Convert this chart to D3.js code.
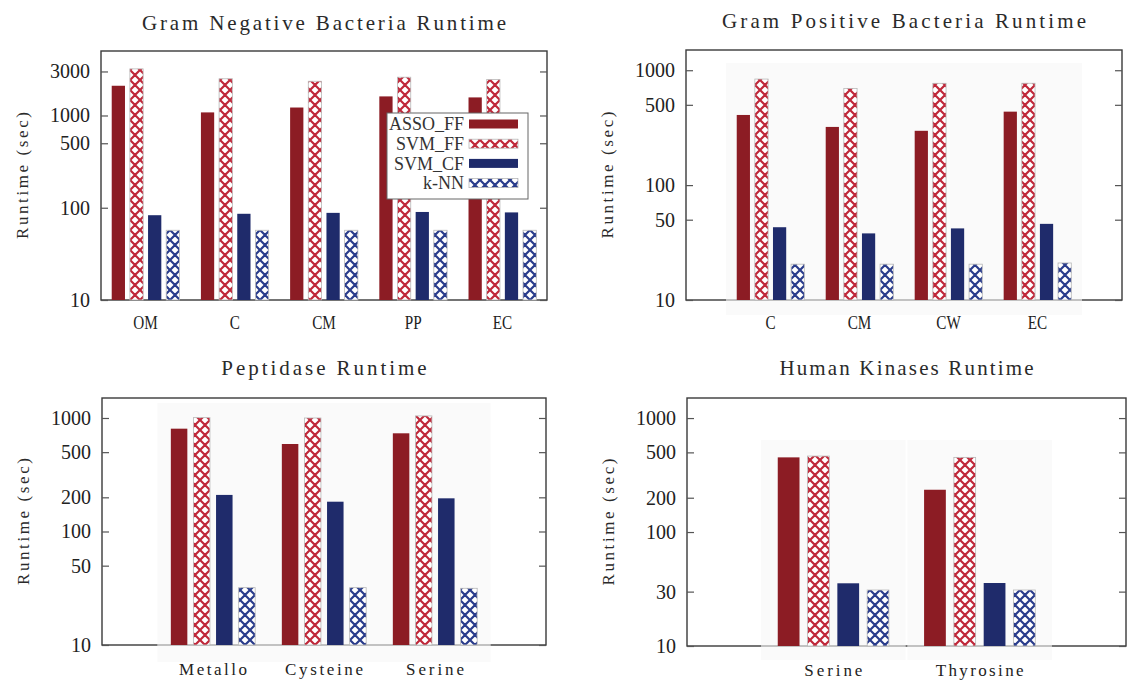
<!DOCTYPE html>
<html>
<head>
<meta charset="utf-8">
<script src="https://cdn.jsdelivr.net/npm/d3@7"></script>
<style>
  html, body { margin: 0; padding: 0; background: #ffffff; }
  svg { display: block; }
</style>
</head>
<body>
<svg id="chart" width="1139" height="681"></svg>
<script>
// ---------------- DATA ----------------
const seriesNames = ["ASSO_FF", "SVM_FF", "SVM_CF", "k-NN"];

const gnTitle = "Gram Negative Bacteria Runtime";
const gnCategories = ["OM", "C", "CM", "PP", "EC"];
const gnAssoFF = [2100, 1080, 1220, 1610, 1570];
const gnSvmFF  = [3200, 2500, 2350, 2600, 2450];
const gnSvmCF  = [83, 86, 88, 90, 89];
const gnKnn    = [57, 57, 57, 57, 57];
const gnTicks  = [10, 100, 500, 1000, 3000];

const gpTitle = "Gram Positive Bacteria Runtime";
const gpCategories = ["C", "CM", "CW", "EC"];
const gpAssoFF = [408, 321, 297, 436];
const gpSvmFF  = [838, 695, 769, 770];
const gpSvmCF  = [43, 38, 42, 46];
const gpKnn    = [20.5, 20.5, 20.5, 21];
const gpTicks  = [10, 50, 100, 500, 1000];

const pepTitle = "Peptidase Runtime";
const pepCategories = ["Metallo", "Cysteine", "Serine"];
const pepAssoFF = [805, 590, 733];
const pepSvmFF  = [1007, 1000, 1043];
const pepSvmCF  = [210, 183, 196];
const pepKnn    = [32, 32, 31.6];
const pepTicks  = [10, 50, 100, 200, 500, 1000];

const hkTitle = "Human Kinases Runtime";
const hkCategories = ["Serine", "Thyrosine"];
const hkAssoFF = [452, 235];
const hkSvmFF  = [464, 452];
const hkSvmCF  = [35.5, 35.7];
const hkKnn    = [31, 31];
const hkTicks  = [10, 30, 100, 200, 500, 1000];

const yLabel = "Runtime (sec)";

// ---------------- STYLE ----------------
const SERIF = "'Liberation Serif', 'DejaVu Serif', serif";
const cAsso = "#8c1c24", cSvmFFLine = "#c0283a", cSvmCF = "#1f2b6b", cKnnLine = "#2a3c8c";

const svg = d3.select("#chart");
const defs = svg.append("defs");
function lattice(id, color) {
  const p = defs.append("pattern").attr("id", id).attr("patternUnits", "userSpaceOnUse")
    .attr("width", 10).attr("height", 10);
  p.append("rect").attr("width", 10).attr("height", 10).attr("fill", "#ffffff");
  p.append("path")
    .attr("d", "M0,0L10,10M10,0L0,10M-5,5L5,15M5,-5L15,5M-5,5L5,-5M5,15L15,5")
    .attr("stroke", color).attr("stroke-width", 2.2).attr("fill", "none");
}
lattice("patSvmFF", cSvmFFLine);
lattice("patKnn", cKnnLine);

const seriesFill = {
  "ASSO_FF": cAsso, "SVM_FF": "url(#patSvmFF)", "SVM_CF": cSvmCF, "k-NN": "url(#patKnn)"
};
const seriesStroke = { "ASSO_FF": "none", "SVM_FF": "#b8b8b8", "SVM_CF": "none", "k-NN": "#b8b8b8" };

// ---------------- PANELS ----------------
const panels = [
  { title: gnTitle, cats: gnCategories, vals: [gnAssoFF, gnSvmFF, gnSvmCF, gnKnn], ticks: gnTicks,
    left: 101, right: 547, top: 51, bottom: 300, max: 5000, po: 0, patch: "none",
    titleY: 30, condensedX: true },
  { title: gpTitle, cats: gpCategories, vals: [gpAssoFF, gpSvmFF, gpSvmCF, gpKnn], ticks: gpTicks,
    left: 686, right: 1122, top: 50, bottom: 300, max: 1500, po: 0.45, patch: "all",
    patchTop: 13, patchBottom: 15, titleY: 28, condensedX: true },
  { title: pepTitle, cats: pepCategories, vals: [pepAssoFF, pepSvmFF, pepSvmCF, pepKnn], ticks: pepTicks,
    left: 102, right: 546, top: 398, bottom: 645, max: 1500, po: 0.5, patch: "all",
    patchTop: 5, patchBottom: 17, titleY: 375, condensedX: false },
  { title: hkTitle, cats: hkCategories, vals: [hkAssoFF, hkSvmFF, hkSvmCF, hkKnn], ticks: hkTicks,
    left: 687, right: 1126, top: 398, bottom: 646, max: 1500, po: 0.5, patch: "each",
    patchTop: 42, patchBottom: 14, titleY: 375, condensedX: false }
];

panels.forEach((cfg, pi) => {
  const g = svg.append("g");
  const y = d3.scaleLog().domain([10, cfg.max]).range([cfg.bottom, cfg.top]);
  const x0 = d3.scaleBand().domain(cfg.cats).range([cfg.left, cfg.right]).paddingInner(0).paddingOuter(cfg.po);
  const x1 = d3.scaleBand().domain(seriesNames).range([0, x0.bandwidth()]).paddingInner(0.27).paddingOuter(0.59);

  // frame
  g.append("rect").attr("x", cfg.left).attr("y", cfg.top)
    .attr("width", cfg.right - cfg.left).attr("height", cfg.bottom - cfg.top)
    .attr("fill", "none").attr("stroke", "#3a3a3a").attr("stroke-width", 1.4);

  // scanned-paste patches behind the bars
  let patchSpans = [];
  if (cfg.patch === "all") {
    patchSpans = [[x0(cfg.cats[0]), x0(cfg.cats[cfg.cats.length - 1]) + x0.bandwidth()]];
  } else if (cfg.patch === "each") {
    patchSpans = cfg.cats.map(c => [x0(c) + 1, x0(c) + x0.bandwidth() - 1]);
  }
  patchSpans.forEach(([a, b]) => {
    g.append("rect").attr("x", a).attr("y", cfg.top + cfg.patchTop)
      .attr("width", b - a).attr("height", cfg.bottom - cfg.top - cfg.patchTop + cfg.patchBottom)
      .attr("fill", "#fafafa");
    g.append("line").attr("x1", a).attr("x2", b).attr("y1", y(10)).attr("y2", y(10))
      .attr("stroke", "#8a8a8a").attr("stroke-width", 1);
  });

  // bars
  const rows = [];
  cfg.cats.forEach((c, ci) => seriesNames.forEach((s, si) => rows.push({ c, s, v: cfg.vals[si][ci] })));
  g.selectAll("rect.bar").data(rows).enter().append("rect").attr("class", "bar")
    .attr("x", d => x0(d.c) + x1(d.s))
    .attr("y", d => y(d.v))
    .attr("width", x1.bandwidth())
    .attr("height", d => y(10) - y(d.v))
    .attr("fill", d => seriesFill[d.s])
    .attr("stroke", d => seriesStroke[d.s])
    .attr("stroke-width", 0.8);

  // left axis (inward ticks)
  const ax = g.append("g").attr("transform", `translate(${cfg.left},0)`)
    .call(d3.axisLeft(y).tickValues(cfg.ticks).tickFormat(d3.format("d"))
      .tickSizeInner(-7).tickSizeOuter(0).tickPadding(11));
  ax.select(".domain").remove();
  ax.selectAll(".tick line").attr("stroke", "#555").attr("stroke-width", 1.2);
  ax.selectAll(".tick text").attr("font-family", SERIF).attr("font-size", 20).attr("fill", "#222");

  // right mirror ticks
  const axr = g.append("g").attr("transform", `translate(${cfg.right},0)`)
    .call(d3.axisRight(y).tickValues(cfg.ticks).tickFormat("").tickSizeInner(-7).tickSizeOuter(0));
  axr.select(".domain").remove();
  axr.selectAll(".tick line").attr("stroke", "#555").attr("stroke-width", 1.2);

  // bottom category labels
  const axb = g.append("g").attr("transform", `translate(0,${cfg.bottom})`)
    .call(d3.axisBottom(x0).tickSize(0).tickPadding(cfg.condensedX ? 16 : 18));
  axb.select(".domain").remove();
  axb.selectAll(".tick text").attr("font-family", SERIF).attr("fill", "#222")
    .attr("font-size", cfg.condensedX ? 19 : 17)
    .each(function (d) {
      const t = d3.select(this);
      if (cfg.condensedX) {
        const w = this.getComputedTextLength();
        t.attr("textLength", w * 0.8).attr("lengthAdjust", "spacingAndGlyphs");
      } else {
        t.attr("textLength", d.length * 10 - 2).attr("lengthAdjust", "spacing");
      }
    });

  // title
  const cx = (cfg.left + cfg.right) / 2;
  g.append("text").attr("x", cx).attr("y", cfg.titleY).attr("text-anchor", "middle")
    .attr("font-family", SERIF).attr("font-size", 21).attr("fill", "#2a2a2a")
    .attr("textLength", cfg.title.length * 12.2 - 2).attr("lengthAdjust", "spacing")
    .text(cfg.title);

  // y label
  const cy = (cfg.top + cfg.bottom) / 2;
  const lx = cfg.left - 79;
  g.append("text").attr("transform", `translate(${lx},${cy}) rotate(-90)`)
    .attr("text-anchor", "middle").attr("dy", "0.35em")
    .attr("font-family", SERIF).attr("font-size", 17).attr("fill", "#2a2a2a")
    .attr("textLength", 127).attr("lengthAdjust", "spacing")
    .text(yLabel);

  // legend in first panel
  if (pi === 0) {
    const lg = g.append("g");
    lg.append("rect").attr("x", 387).attr("y", 113).attr("width", 141).attr("height", 86)
      .attr("fill", "#ffffff").attr("stroke", "#666").attr("stroke-width", 1);
    seriesNames.forEach((s, i) => {
      const yy = 124 + i * 19.7;
      lg.append("text").attr("x", 464).attr("y", yy).attr("dy", "0.35em")
        .attr("text-anchor", "end").attr("font-family", SERIF).attr("font-size", 18)
        .attr("fill", "#333").text(s);
      lg.append("rect").attr("x", 469).attr("y", yy - 4.5).attr("width", 49).attr("height", 9)
        .attr("fill", seriesFill[s]).attr("stroke", seriesStroke[s]).attr("stroke-width", 0.8);
    });
  }
});
</script>
</body>
</html>
